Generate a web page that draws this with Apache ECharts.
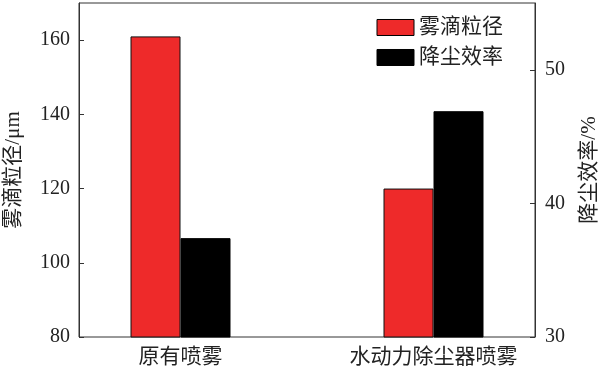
<!DOCTYPE html>
<html>
<head>
<meta charset="utf-8">
<script src="https://cdn.jsdelivr.net/npm/echarts@6/dist/echarts.min.js"></script>
<style>
  html, body { margin: 0; padding: 0; background: #fff; }
  #chart { width: 600px; height: 372px; }
</style>
</head>
<body>
<div id="chart"></div>
<script>
  const categories = ['原有喷雾', '水动力除尘器喷雾'];
  const dropletSize = [161, 120];      // 雾滴粒径 / μm (left axis)
  const dustEfficiency = [37.4, 46.9]; // 降尘效率 / % (right axis)
  const seriesNames = ['雾滴粒径', '降尘效率'];

  const fontLatin = '"Liberation Serif", "Noto Sans CJK SC", serif';
  const textColor = '#222';

  const chart = echarts.init(document.getElementById('chart'), null, { renderer: 'canvas' });

  // grid 0 draws the frame and the visible axes, grid 1 (wider) places the bars
  const frameTop = 3, frameBottom = 35;

  const option = {
    animation: false,
    textStyle: { fontFamily: fontLatin, color: textColor },
    grid: [
      { left: 79, right: 65, top: frameTop, bottom: frameBottom, show: true, borderColor: '#333', borderWidth: 1, outerBoundsMode: 'none' },
      { left: 54, right: 40, top: frameTop, bottom: frameBottom, outerBoundsMode: 'none' }
    ],
    legend: {
      data: seriesNames,
      orient: 'vertical',
      right: 92,
      top: 12,
      icon: 'rect',
      itemWidth: 37,
      itemHeight: 16,
      itemGap: 9,
      itemStyle: { borderColor: '#000', borderWidth: 1 },
      textStyle: { fontSize: 21, color: textColor, fontFamily: fontLatin }
    },
    xAxis: [
      { type: 'category', gridIndex: 0, data: categories, show: false },
      {
        type: 'category', gridIndex: 1, data: categories,
        axisLine: { show: false },
        axisTick: { show: false },
        axisLabel: { fontSize: 21, color: textColor, margin: 10, fontFamily: fontLatin }
      }
    ],
    yAxis: [
      {
        type: 'value', gridIndex: 0, position: 'left',
        min: 80, max: 170, interval: 20,
        name: '雾滴粒径/μm', nameLocation: 'middle', nameGap: 55, nameRotate: 90,
        nameTextStyle: { fontSize: 21, color: textColor, fontFamily: fontLatin },
        axisLine: { show: true, lineStyle: { color: '#333' } },
        axisTick: { show: true, inside: true, length: 5, lineStyle: { color: '#333' } },
        splitLine: { show: false },
        axisLabel: { fontSize: 20, color: textColor, margin: 9, showMaxLabel: false, fontFamily: fontLatin }
      },
      {
        type: 'value', gridIndex: 0, position: 'right',
        min: 30, max: 55, interval: 10,
        name: '降尘效率/%', nameLocation: 'middle', nameGap: 44, nameRotate: 90,
        nameTextStyle: { fontSize: 21, color: textColor, fontFamily: fontLatin },
        axisLine: { show: true, lineStyle: { color: '#333' } },
        axisTick: { show: true, inside: true, length: 5, lineStyle: { color: '#333' } },
        splitLine: { show: false },
        axisLabel: { fontSize: 20, color: textColor, margin: 10, showMaxLabel: false, fontFamily: fontLatin }
      },
      { type: 'value', gridIndex: 1, min: 80, max: 170, show: false, splitLine: { show: false } },
      { type: 'value', gridIndex: 1, min: 30, max: 55, show: false, splitLine: { show: false } }
    ],
    series: [
      {
        name: seriesNames[0], type: 'bar', xAxisIndex: 1, yAxisIndex: 2,
        data: dropletSize, barWidth: 50, barGap: '0%',
        itemStyle: { color: '#EE2A2A', borderColor: '#111', borderWidth: 1 }
      },
      {
        name: seriesNames[1], type: 'bar', xAxisIndex: 1, yAxisIndex: 3,
        data: dustEfficiency, barWidth: 50, barGap: '0%',
        itemStyle: { color: '#000', borderColor: '#000', borderWidth: 1 }
      }
    ]
  };

  chart.setOption(option);
</script>
</body>
</html>
